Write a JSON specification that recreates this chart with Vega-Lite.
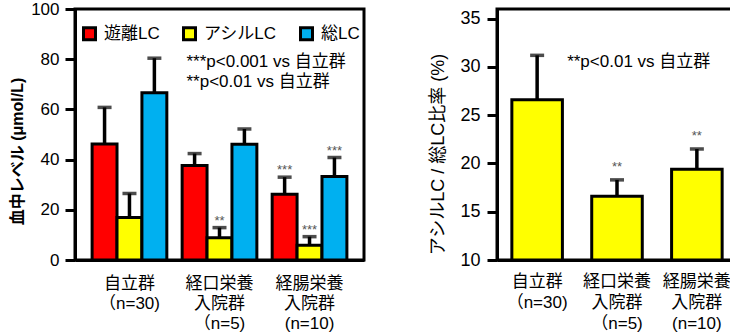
{
  "$schema": "https://vega.github.io/schema/vega-lite/v6.json",
  "padding": {"left": 8, "top": -2, "right": 0, "bottom": 0},
  "background": "white",
  "spacing": 62,
  "datasets": {
    "lc": [
      {"group": "自立群|（n=30)", "series": "遊離LC", "value": 46.2, "err": 60.8, "star": ""},
      {"group": "自立群|（n=30)", "series": "アシルLC", "value": 16.9, "err": 26.5, "star": ""},
      {"group": "自立群|（n=30)", "series": "総LC", "value": 66.6, "err": 80.4, "star": ""},
      {"group": "経口栄養|入院群|（n=5)", "series": "遊離LC", "value": 37.6, "err": 42.4, "star": ""},
      {"group": "経口栄養|入院群|（n=5)", "series": "アシルLC", "value": 8.9, "err": 12.9, "star": "**"},
      {"group": "経口栄養|入院群|（n=5)", "series": "総LC", "value": 46.1, "err": 52.2, "star": ""},
      {"group": "経腸栄養|入院群|(n=10)", "series": "遊離LC", "value": 26.2, "err": 33.0, "star": "***"},
      {"group": "経腸栄養|入院群|(n=10)", "series": "アシルLC", "value": 5.9, "err": 9.3, "star": "***"},
      {"group": "経腸栄養|入院群|(n=10)", "series": "総LC", "value": 33.3, "err": 40.8, "star": "***"}
    ],
    "ratio": [
      {"group": "自立群|（n=30)", "value": 26.6, "err": 31.2, "star": ""},
      {"group": "経口栄養|入院群|（n=5)", "value": 16.6, "err": 18.3, "star": "**"},
      {"group": "経腸栄養|入院群|(n=10)", "value": 19.4, "err": 21.5, "star": "**"}
    ],
    "notesL": [
      {"group": "経口栄養|入院群|（n=5)", "value": 79, "text": "***p<0.001 vs 自立群"},
      {"group": "経口栄養|入院群|（n=5)", "value": 71, "text": "**p<0.01 vs 自立群"}
    ],
    "notesR": [
      {"group": "自立群|（n=30)", "value": 30.5, "text": "**p<0.01 vs 自立群"}
    ]
  },
  "config": {
    "font": "Liberation Sans, Noto Sans CJK JP",
    "view": {"stroke": "black", "strokeWidth": 3},
    "axis": {
      "grid": false,
      "domainColor": "black",
      "domainWidth": 3,
      "tickColor": "black",
      "tickWidth": 3,
      "tickSize": 10,
      "labelColor": "black",
      "titleColor": "black",
      "labelFont": "Liberation Sans, Noto Sans CJK JP",
      "titleFont": "Liberation Sans, Noto Sans CJK JP"
    },
    "legend": {"labelFont": "Liberation Sans, Noto Sans CJK JP"}
  },
  "hconcat": [
    {
      "width": 289,
      "height": 251,
      "layer": [
        {
          "data": {"name": "lc"},
          "mark": {"type": "bar", "stroke": "black", "strokeWidth": 3},
          "encoding": {
            "x": {
              "field": "group", "type": "nominal", "title": null,
              "scale": {"domain": ["自立群|（n=30)", "経口栄養|入院群|（n=5)", "経腸栄養|入院群|(n=10)"], "paddingInner": 0.17, "paddingOuter": 0.19},
              "axis": {"labelExpr": "split(datum.label, '|')", "labelAngle": 0, "ticks": false, "labelPadding": 15, "labelFontSize": 17, "labelLineHeight": 20, "labelBaseline": "top"}
            },
            "xOffset": {
              "field": "series", "type": "nominal",
              "scale": {"domain": ["遊離LC", "アシルLC", "総LC"], "paddingInner": 0, "paddingOuter": 0}
            },
            "y": {
              "field": "value", "type": "quantitative",
              "scale": {"domain": [0, 100]},
              "title": "血中レベル (μmol/L)",
              "axis": {"values": [0, 20, 40, 60, 80, 100], "labelFontSize": 17, "labelPadding": 6, "titleFontSize": 16, "titleFontWeight": "bold", "titlePadding": 5, "titleY": 142}
            },
            "color": {
              "field": "series", "type": "nominal",
              "scale": {"domain": ["遊離LC", "アシルLC", "総LC"], "range": ["#ff0000", "#ffff00", "#00b0f0"]},
              "legend": {
                "title": null, "orient": "none", "legendX": 6, "legendY": 16, "direction": "horizontal",
                "symbolType": "square", "symbolSize": 144, "symbolStrokeColor": "black", "symbolStrokeWidth": 3, "symbolOpacity": 1,
                "labelFontSize": 17, "labelColor": "black", "labelOffset": 6, "columnPadding": 17, "padding": 0
              }
            }
          }
        },
        {
          "data": {"name": "lc"},
          "mark": {"type": "rule", "color": "black", "strokeWidth": 3.5},
          "encoding": {
            "x": {"field": "group", "type": "nominal"},
            "xOffset": {"field": "series", "type": "nominal"},
            "y": {"field": "value", "type": "quantitative"},
            "y2": {"field": "err"}
          }
        },
        {
          "data": {"name": "lc"},
          "mark": {"type": "tick", "color": "black", "size": 14, "thickness": 3.5, "orient": "horizontal"},
          "encoding": {
            "x": {"field": "group", "type": "nominal"},
            "xOffset": {"field": "series", "type": "nominal"},
            "y": {"field": "err", "type": "quantitative"}
          }
        },
        {
          "data": {"name": "lc"},
          "mark": {"type": "text", "fontSize": 13, "color": "#555555", "baseline": "alphabetic", "dy": -3},
          "encoding": {
            "x": {"field": "group", "type": "nominal"},
            "xOffset": {"field": "series", "type": "nominal"},
            "y": {"field": "err", "type": "quantitative"},
            "text": {"field": "star"}
          }
        },
        {
          "data": {"name": "notesL"},
          "mark": {"type": "text", "fontSize": 17, "color": "black", "align": "left", "baseline": "middle", "dx": -33},
          "encoding": {
            "x": {"field": "group", "type": "nominal"},
            "y": {"field": "value", "type": "quantitative"},
            "text": {"field": "text"}
          }
        }
      ]
    },
    {
      "width": 240,
      "height": 251,
      "layer": [
        {
          "data": {"name": "ratio"},
          "mark": {"type": "bar", "stroke": "black", "strokeWidth": 3, "color": "#ffff00"},
          "encoding": {
            "x": {
              "field": "group", "type": "nominal", "title": null,
              "scale": {"domain": ["自立群|（n=30)", "経口栄養|入院群|（n=5)", "経腸栄養|入院群|(n=10)"], "paddingInner": 0.367, "paddingOuter": 0.186},
              "axis": {"labelExpr": "split(datum.label, '|')", "labelAngle": 0, "ticks": false, "labelPadding": 13, "labelFontSize": 17, "labelLineHeight": 21, "labelBaseline": "top"}
            },
            "y": {
              "field": "value", "type": "quantitative",
              "scale": {"domain": [10, 35]},
              "title": "アシルLC / 総LC比率 (%)",
              "axis": {"values": [10, 15, 20, 25, 30, 35], "labelFontSize": 18, "labelPadding": 7, "titleFontSize": 18, "titleFontWeight": "normal", "titlePadding": 12, "titleY": 145}
            },
            "y2": {"datum": 10}
          }
        },
        {
          "data": {"name": "ratio"},
          "mark": {"type": "rule", "color": "black", "strokeWidth": 3.5},
          "encoding": {
            "x": {"field": "group", "type": "nominal"},
            "y": {"field": "value", "type": "quantitative"},
            "y2": {"field": "err"}
          }
        },
        {
          "data": {"name": "ratio"},
          "mark": {"type": "tick", "color": "black", "size": 14, "thickness": 3.5, "orient": "horizontal"},
          "encoding": {
            "x": {"field": "group", "type": "nominal"},
            "y": {"field": "err", "type": "quantitative"}
          }
        },
        {
          "data": {"name": "ratio"},
          "mark": {"type": "text", "fontSize": 13, "color": "#555555", "baseline": "alphabetic", "dy": -9},
          "encoding": {
            "x": {"field": "group", "type": "nominal"},
            "y": {"field": "err", "type": "quantitative"},
            "text": {"field": "star"}
          }
        },
        {
          "data": {"name": "notesR"},
          "mark": {"type": "text", "fontSize": 17, "color": "black", "align": "left", "baseline": "middle", "dx": 30},
          "encoding": {
            "x": {"field": "group", "type": "nominal"},
            "y": {"field": "value", "type": "quantitative"},
            "text": {"field": "text"}
          }
        }
      ]
    }
  ]
}
